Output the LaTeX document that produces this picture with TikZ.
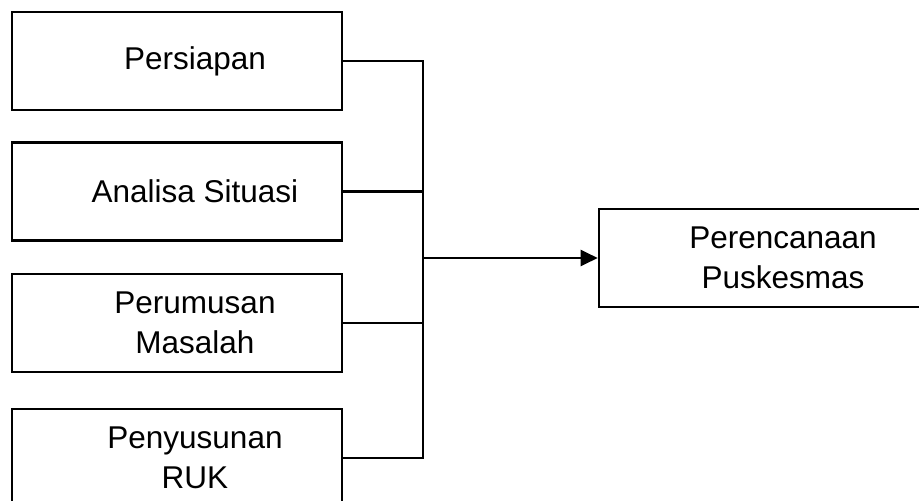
\documentclass[tikz,border=0pt]{standalone}
\usepackage{fontspec}
\setmainfont{Liberation Sans}
\usetikzlibrary{arrows.meta, positioning}

\begin{document}
\begin{tikzpicture}[
  x=1pt, y=-1pt,
  kotak/.style={
    draw,
    rectangle,
    line width=2.6pt,
    minimum width=#1,
    minimum height=98pt
    },
  kotak/.default=330pt,
  teks/.style={
    font=\fontsize{31.5}{40}\selectfont,
    align=center
    },
  garis/.style={line width=2.2pt}
]

\clip (0,0) rectangle (919,501);

% kotak kiri
\node[kotak] (persiapan) at (177,61) {};
\node[teks] at ([xshift=18pt]persiapan.center) {Persiapan};

\node[kotak] (analisa) at (177,191.5) {};
\node[teks] at ([xshift=18pt]analisa.center) {Analisa Situasi};

\node[kotak] (perumusan) at (177,323) {};
\node[teks] at ([xshift=18pt]perumusan.center) {Perumusan\\Masalah};

\node[kotak] (penyusunan) at (177,458) {};
\node[teks] at ([xshift=18pt]penyusunan.center) {Penyusunan\\RUK};

% kotak kanan
\node[kotak=352pt] (perencanaan) at (775,258) {};
\node[teks] at ([xshift=8pt]perencanaan.center) {Perencanaan\\Puskesmas};

% garis penghubung
\coordinate (tulang) at (423,0);
\draw[garis] (persiapan.east) -- (persiapan.east -| tulang)
  -- (penyusunan.east -| tulang) -- (penyusunan.east);
\draw[garis] (analisa.east) -- (analisa.east -| tulang);
\draw[garis] (perumusan.east) -- (perumusan.east -| tulang);
\draw[garis, -{Triangle[length=17pt, width=16pt]}]
  (perencanaan.west -| tulang) -- (perencanaan.west);

\end{tikzpicture}
\end{document}
